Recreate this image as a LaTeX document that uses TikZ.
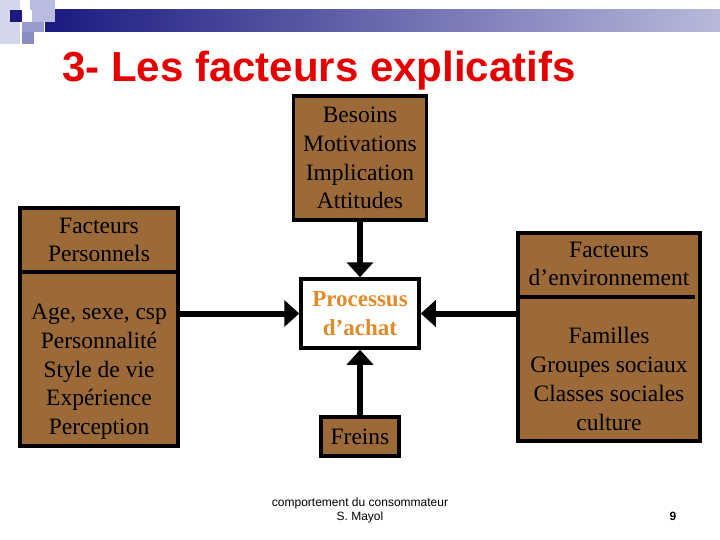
\documentclass[tikz,border=0pt]{standalone}
\usepackage{fontspec}
\setmainfont{Liberation Serif}
\newfontfamily\arial{Liberation Sans}
\usetikzlibrary{arrows.meta}
\definecolor{brownbox}{HTML}{9C6A38}
\definecolor{navy}{HTML}{1A1A80}
\definecolor{lnavy}{HTML}{B8BCE0}
\definecolor{orangetxt}{HTML}{E08A28}
\tikzset{
 box/.style={draw=black,line width=3.5pt,fill=brownbox,inner sep=0pt},
 txt/.style={align=center,font=\fontsize{23.5}{28.7}\selectfont,text=black},
 arr/.style={line width=6pt,-{Triangle[length=15pt,width=26pt]}},
 sep/.style={line width=3.5pt}
}
\begin{document}
\begin{tikzpicture}[x=1pt,y=-1pt]
\useasboundingbox (0,0) rectangle (720,540);
% header
\shade[left color=navy,right color=lnavy!70!navy!60] (45,10) rectangle (720,32);
\fill[lnavy!60] (0,0) rectangle (20,44);
\fill[lnavy] (30,0) rectangle (55,10);
\fill[navy] (10,10) rectangle (22,22);
\fill[lnavy] (32,10) rectangle (55,22);
\fill[lnavy!80!navy] (22,22) rectangle (44,32);
\fill[lnavy!70!navy] (22,32) rectangle (34,44);
% title
\node[anchor=base west,text=red!90!black,font=\arial\bfseries\fontsize{42}{44}\selectfont,inner sep=0pt] (title) at (62,82) {3- Les facteurs explicatifs};
% boxes
\node[box,minimum width=158pt,minimum height=238pt] (L) at (99,327) {};
\draw[sep] (20,272) -- (178,272);
\node[txt] (Lt) at (99,240) {Facteurs\\Personnels};
\node[txt] (Lb) at (99,372) {Age, sexe, csp\\Personnalité\\Style de vie\\Expérience\\Perception};
\node[box,minimum width=133pt,minimum height=124pt,txt] (T) at (360,158) {Besoins\\Motivations\\Implication\\Attitudes};
\node[draw=black,line width=3.5pt,fill=white,minimum width=118pt,minimum height=69pt,align=center,font=\bfseries\fontsize{23}{28.7}\selectfont,text=orangetxt] (P) at (360,313.5) {Processus\\d’achat};
\node[box,minimum width=78pt,minimum height=39pt,txt] (F) at (360,436.5) {Freins};
\node[box,minimum width=182pt,minimum height=208pt] (R) at (609,337) {};
\draw[sep] (518,297) -- (695,297);
\node[txt] (Rt) at (609,264) {Facteurs\\d’environnement};
\node[txt] (Rb) at (609,379) {Familles\\Groupes sociaux\\Classes sociales\\culture};
% arrows
\draw[arr] (T.south) -- (P.north);
\draw[arr] (F.north) -- (P.south);
\draw[arr] (L.east |- P.west) -- (P.west);
\draw[arr] (R.west |- P.east) -- (P.east);
% footer
\node[align=center,font=\arial\fontsize{12}{14}\selectfont] (foot) at (360,510) {comportement du consommateur\\S. Mayol};
\node[font=\arial\bfseries\fontsize{12}{14}\selectfont] (pg) at (673,516) {9};
\end{tikzpicture}
\end{document}
